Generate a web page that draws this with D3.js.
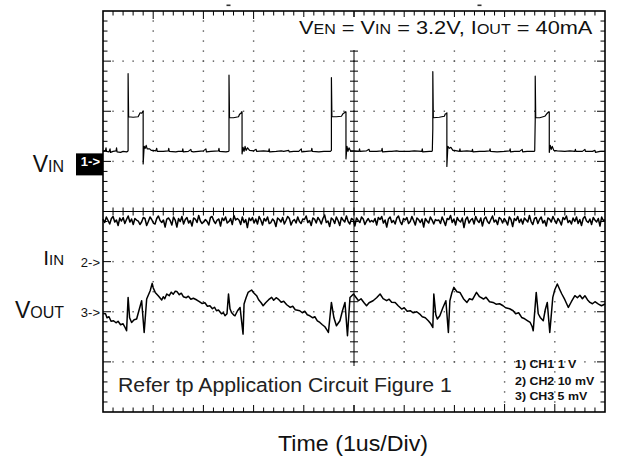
<!DOCTYPE html>
<html><head><meta charset="utf-8">
<script src="https://cdn.jsdelivr.net/npm/d3@7"></script>
<style>
body{margin:0;background:#fff}
svg{display:block}
text{font-family:"Liberation Sans",Arial,sans-serif}
</style>
</head><body>
<svg id="c" width="618" height="458"></svg>
<script>
// ---------------- DATA ----------------
const timeDomain = [0, 10];            // microseconds, 1 us / div
const divDomain = [-4, 4];             // vertical divisions
const channelIds = ["1", "2", "3"];
const channelMain = ["V", "I", "V"];
const channelSub = ["IN", "IN", "OUT"];
const channelOffsetDiv = [1, -1, -2];  // marker position (divisions)
const channelPerDiv = [1, 10, 5];      // V/div, mV/div, mV/div
const legendLines = ["1) CH1 1 V", "2) CH2 10 mV", "3) CH3 5 mV"];
const triggerTimes = [2.5, 7.5];
const titleParts = [["V",0],["EN",1],["  = V",0],["IN",1],[" = 3.2V, I",0],["OUT",1],[" = 40mA",0]];
const noteText = "Refer tp Application Circuit Figure 1";
const xTitle = "Time (1us/Div)";

// CH1: V_IN  [time us, volts]
const vinData = [
[0,0.2],[0.05,0.22],[0.06,0.27],[0.07,0.2],[0.12,0.19],[0.14,0.25],[0.15,0.18],[0.2,0.2],[0.26,0.21],[0.27,0.27],[0.28,0.19],[0.35,0.18],[0.4,0.2],[0.47,0.19],[0.49,0.2],
[0.5,0.21],[0.5,1.75],[0.51,0.89],[0.6,0.88],[0.7,0.89],[0.72,0.93],[0.74,0.97],[0.77,0.96],[0.79,0.99],[0.8,1.0],[0.8,-0.05],[0.82,0.3],[0.84,0.26],[0.86,0.32],[0.88,0.25],[0.93,0.25],[0.96,0.22],
[1.0,0.22],[1.05,0.21],[1.07,0.26],[1.08,0.2],[1.2,0.2],[1.3,0.21],[1.31,0.26],[1.32,0.2],[1.45,0.19],[1.5,0.2],[1.58,0.2],[1.59,0.25],[1.6,0.19],[1.7,0.2],[1.75,0.24],[1.76,0.2],[1.8,0.19],[1.9,0.2],[2.0,0.21],[2.05,0.25],[2.06,0.19],[2.15,0.2],[2.3,0.21],[2.31,0.26],[2.32,0.2],[2.45,0.19],[2.5,0.2],
[2.51,0.21],[2.51,1.72],[2.52,0.87],[2.6,0.87],[2.7,0.89],[2.72,0.94],[2.75,0.96],[2.76,0.99],[2.77,0.99],[2.77,0.15],[2.79,0.28],[2.81,0.2],[2.83,0.3],[2.85,0.22],[2.88,0.27],[2.92,0.22],
[3.0,0.21],[3.05,0.24],[3.06,0.2],[3.2,0.21],[3.3,0.2],[3.31,0.25],[3.32,0.19],[3.45,0.2],[3.55,0.21],[3.6,0.2],[3.7,0.22],[3.71,0.19],[3.8,0.2],[3.9,0.2],[3.95,0.25],[3.96,0.19],[4.05,0.2],[4.15,0.21],[4.16,0.26],[4.17,0.2],[4.3,0.19],[4.4,0.2],[4.5,0.2],[4.53,0.2],
[4.55,0.22],[4.55,1.67],[4.56,0.89],[4.65,0.89],[4.75,0.9],[4.78,0.95],[4.81,0.97],[4.83,0.99],[4.84,0.99],[4.84,0.05],[4.86,0.3],[4.88,0.2],[4.9,0.27],[4.93,0.21],
[5.0,0.21],[5.1,0.2],[5.11,0.25],[5.12,0.2],[5.25,0.21],[5.3,0.24],[5.31,0.2],[5.45,0.2],[5.55,0.21],[5.56,0.26],[5.57,0.19],[5.7,0.2],[5.75,0.2],[5.85,0.21],[5.9,0.2],[6.0,0.2],[6.1,0.2],[6.2,0.21],[6.35,0.2],[6.36,0.25],[6.37,0.19],[6.5,0.2],[6.55,0.2],
[6.56,0.21],[6.57,0.65],[6.57,1.79],[6.58,0.87],[6.7,0.88],[6.8,0.9],[6.82,0.95],[6.84,0.95],[6.85,0.97],[6.85,-0.1],[6.87,0.3],[6.9,0.26],[6.93,0.28],[6.97,0.22],
[7.0,0.22],[7.1,0.2],[7.11,0.25],[7.12,0.2],[7.25,0.21],[7.35,0.2],[7.36,0.24],[7.37,0.19],[7.5,0.2],[7.6,0.2],[7.7,0.21],[7.71,0.25],[7.72,0.2],[7.85,0.19],[8.0,0.2],[8.1,0.21],[8.11,0.25],[8.12,0.19],[8.2,0.2],[8.3,0.2],[8.35,0.24],[8.36,0.19],[8.45,0.2],[8.55,0.2],[8.59,0.2],
[8.6,0.21],[8.61,0.82],[8.61,1.7],[8.62,0.87],[8.7,0.87],[8.8,0.9],[8.84,0.95],[8.87,0.98],[8.88,0.99],[8.89,0.99],[8.89,0.18],[8.91,0.32],[8.93,0.24],[8.95,0.3],[8.98,0.22],
[9.05,0.21],[9.2,0.2],[9.3,0.21],[9.4,0.2],[9.41,0.24],[9.42,0.2],[9.55,0.2],[9.6,0.24],[9.61,0.2],[9.75,0.2],[9.8,0.22],[9.81,0.18],[9.9,0.2],[10,0.2]
];

// CH2: I_IN samples (mV), evenly sampled across the 10 us record
const iinSamples = [
8.5,7.8,8.9,8.2,7.5,8.6,9.0,7.9,8.3,7.2,8.7,8.1,8.8,7.6,8.4,9.1,7.9,8.5,7.4,8.6,
8.3,8.1,7.4,7.9,8.8,8.6,7.2,8.0,8.9,8.4,7.7,7.5,8.6,9.1,8.2,7.8,8.3,6.9,8.5,8.7,
8.2,7.3,8.9,8.3,6.9,8.6,8.0,9.0,7.5,8.4,8.8,7.7,8.2,7.1,8.7,8.5,7.8,9.2,8.1,7.6,
7.9,8.4,8.0,7.3,8.8,9.0,8.1,7.6,8.3,8.5,7.1,8.7,8.2,8.9,7.7,8.0,8.6,7.4,9.2,8.3,
8.6,8.3,7.4,8.9,7.8,8.4,6.8,8.7,8.2,8.8,7.7,8.5,7.5,9.0,8.3,7.3,8.6,8.1,8.9,7.6,
7.8,8.5,8.1,7.0,8.7,8.4,7.9,8.8,7.5,8.2,9.0,8.6,7.3,8.1,8.4,7.7,8.9,8.0,7.6,8.5,
8.4,9.1,7.8,8.2,7.2,8.7,8.5,7.7,8.8,8.3,7.5,8.6,9.3,7.8,8.1,7.0,8.7,8.4,7.6,8.9,
8.2,7.2,8.8,8.3,7.9,9.1,8.0,7.5,8.6,8.4,7.1,8.7,8.2,7.8,8.9,8.5,7.4,8.1,8.6,7.9,
8.2,7.9,8.6,7.3,8.8,8.4,9.0,7.7,8.3,6.9,8.5,8.9,7.8,8.2,7.5,8.7,9.1,8.0,7.4,8.6,
8.3,8.8,7.6,8.0,9.0,8.2,7.3,8.7,8.4,7.8,8.5,6.9,8.6,8.1,7.7,8.9,8.3,7.5,8.4,8.2,
8.3,7.6,8.9,8.1,7.2,8.6,8.4,9.2,7.8,8.5,7.3,8.8,8.2,7.9,8.7,6.8,8.4,8.9,7.7,8.3,
8.6,7.5,9.0,8.2,7.8,8.7,7.1,8.5,8.9,8.0,7.6,8.4,9.1,7.9,8.3,7.4,8.8,8.5,7.7,8.6,
8.1,7.3,8.9,8.4,7.0,8.6,8.2,9.0,7.8,8.5,7.5,8.7,8.3,7.9,9.2,8.0,7.4,8.6,8.8,7.6,
8.4,8.9,7.7,8.2,7.1,8.7,8.5,7.9,9.0,8.3,7.6,8.6,8.1,7.3,8.8,8.4,9.1,7.8,8.2,7.5,
8.7,8.0,8.9,7.6,8.4,7.2,8.6,9.0,8.1,7.8,8.5,7.4,8.8,8.3,7.9,8.6,7.1,8.9,8.2,8.4
];

// CH3: V_OUT [time us, mV]
const voutData = [
[0,-0.17],[0.05,-0.2],[0.08,-0.6],[0.12,-0.5],[0.16,-0.95],[0.21,-0.9],[0.26,-1.1],[0.3,-0.95],[0.35,-1.3],[0.4,-1.2],[0.44,-1.57],[0.47,-1.9],[0.5,1.43],[0.53,-0.6],[0.57,-1.07],[0.62,-0.8],[0.67,-0.73],[0.72,0.2],[0.77,1.1],[0.82,-2.07],[0.87,1.27],[0.94,2.1],[0.98,2.83],[1.0,2.4],[1.04,1.93],[1.1,1.6],[1.17,1.17],[1.2,1.5],[1.23,1.3],[1.27,1.77],[1.32,1.6],[1.36,1.95],[1.4,1.75],[1.44,2.05],[1.47,2.03],[1.52,1.7],[1.56,1.85],[1.6,1.5],[1.66,1.4],[1.7,1.55],[1.75,1.25],[1.8,1.35],[1.87,1.17],[1.92,1.0],[1.97,0.83],[2.03,0.9],[2.08,0.55],[2.13,0.6],[2.18,0.3],[2.22,0.45],[2.26,0.1],[2.3,0.17],[2.36,-0.2],[2.4,-0.1],[2.43,-0.4],[2.47,-0.2],[2.5,1.77],[2.53,0.3],[2.56,-0.07],[2.6,-0.3],[2.63,-0.4],[2.68,0.1],[2.73,0.43],[2.79,-2.23],[2.81,0.77],[2.85,1.4],[2.89,1.93],[2.96,2.17],[3.0,1.9],[3.06,1.6],[3.1,1.2],[3.15,0.9],[3.19,0.6],[3.24,0.9],[3.3,1.2],[3.36,1.43],[3.4,1.15],[3.45,1.4],[3.49,1.27],[3.55,0.95],[3.6,1.05],[3.66,0.7],[3.73,0.43],[3.78,0.55],[3.83,0.2],[3.92,0.1],[3.97,-0.1],[4.02,0.05],[4.07,-0.3],[4.12,-0.4],[4.18,-0.6],[4.22,-0.5],[4.27,-0.9],[4.32,-1.07],[4.37,-1.3],[4.42,-1.5],[4.46,-1.8],[4.49,-2.07],[4.55,0.93],[4.6,-0.6],[4.65,-1.4],[4.72,-0.9],[4.77,0.1],[4.82,0.93],[4.87,-2.4],[4.92,1.43],[4.99,1.77],[5.03,1.5],[5.09,1.1],[5.14,1.3],[5.2,0.9],[5.25,0.6],[5.3,0.9],[5.38,1.1],[5.45,1.4],[5.52,1.77],[5.58,1.3],[5.65,1.1],[5.7,1.25],[5.75,0.95],[5.82,0.93],[5.88,0.6],[5.95,0.27],[6.0,0.4],[6.06,0.05],[6.12,0.1],[6.18,-0.1],[6.25,0.0],[6.31,-0.23],[6.36,-0.5],[6.42,-0.6],[6.48,-0.9],[6.53,-1.2],[6.57,-1.57],[6.59,1.77],[6.63,-0.3],[6.66,-0.73],[6.71,-0.4],[6.77,0.4],[6.83,1.1],[6.88,-2.07],[6.91,1.1],[6.95,1.9],[6.99,2.43],[7.05,2.0],[7.11,1.93],[7.18,1.3],[7.25,0.93],[7.3,1.3],[7.36,1.2],[7.44,1.93],[7.5,1.5],[7.58,1.27],[7.63,1.45],[7.7,1.0],[7.77,0.93],[7.83,0.75],[7.9,0.8],[7.97,0.6],[8.02,0.4],[8.1,0.3],[8.17,0.1],[8.22,-0.2],[8.28,-0.1],[8.34,-0.57],[8.4,-0.7],[8.46,-0.9],[8.51,-1.07],[8.55,-1.5],[8.57,-1.9],[8.63,1.93],[8.67,-0.2],[8.71,-0.57],[8.77,-0.9],[8.81,0.2],[8.85,0.93],[8.9,-2.07],[8.96,1.43],[9.0,2.2],[9.05,2.77],[9.1,2.2],[9.14,1.77],[9.2,1.2],[9.27,0.43],[9.33,1.0],[9.4,1.6],[9.45,1.4],[9.5,1.65],[9.55,1.3],[9.6,1.6],[9.65,1.2],[9.7,0.93],[9.75,0.8],[9.8,1.0],[9.87,0.77],[9.93,0.6],[10,0.77]
];

// ---------------- LAYOUT ----------------
const X0 = 103, X1 = 605, Y0 = 11, Y1 = 412;
const svg = d3.select("#c");
const x = d3.scaleLinear().domain(timeDomain).range([X0, X1]);
const y = d3.scaleLinear().domain(divDomain).range([Y1, Y0]);

const minorT = d3.range(1, 50).map(i => i * 0.2);
const minorD = d3.range(1, 40).map(i => -4 + i * 0.2);
const isMajor = v => Math.abs(v - Math.round(v)) < 1e-6;

// grid dots
const gDots = svg.append("g").attr("fill", "#555");
[1,2,3,4,6,7,8,9].forEach(t => {
  minorD.forEach(d => gDots.append("rect").attr("x", x(t) - 0.7).attr("y", y(d) - 0.7).attr("width", 1.4).attr("height", 1.4));
});
[-3,-2,-1,1,2,3].forEach(d => {
  minorT.forEach(t => gDots.append("rect").attr("x", x(t) - 0.7).attr("y", y(d) - 0.7).attr("width", 1.4).attr("height", 1.4));
});

// center axes
const gAx = svg.append("g").attr("stroke", "#000").attr("stroke-width", 1);
gAx.append("line").attr("x1", X0).attr("x2", X1).attr("y1", y(0)).attr("y2", y(0));
gAx.append("line").attr("x1", x(5)).attr("x2", x(5)).attr("y1", Y0).attr("y2", Y1);
minorT.forEach(t => gAx.append("line").attr("x1", x(t)).attr("x2", x(t)).attr("y1", y(0) - 4).attr("y2", y(0) + 4));
minorD.forEach(d => gAx.append("line").attr("y1", y(d)).attr("y2", y(d)).attr("x1", x(5) - 4).attr("x2", x(5) + 4));

// border ticks
const gB = svg.append("g").attr("stroke", "#000").attr("stroke-width", 1);
minorT.forEach(t => {
  const L = isMajor(t) ? 8 : 4.5;
  gB.append("line").attr("x1", x(t)).attr("x2", x(t)).attr("y1", Y0).attr("y2", Y0 + L);
  gB.append("line").attr("x1", x(t)).attr("x2", x(t)).attr("y1", Y1).attr("y2", Y1 - L);
});
minorD.forEach(d => {
  const L = isMajor(d) ? 8 : 4.5;
  gB.append("line").attr("y1", y(d)).attr("y2", y(d)).attr("x1", X0).attr("x2", X0 + L);
  gB.append("line").attr("y1", y(d)).attr("y2", y(d)).attr("x1", X1).attr("x2", X1 - L);
});

// white label backgrounds
svg.append("rect").attr("x", 295).attr("y", 17).attr("width", 304).attr("height", 33).attr("fill", "#fff");
svg.append("rect").attr("x", 108).attr("y", 366).attr("width", 354).attr("height", 39).attr("fill", "#fff");

// border
svg.append("rect").attr("x", X0).attr("y", Y0).attr("width", X1 - X0).attr("height", Y1 - Y0)
  .attr("fill", "none").attr("stroke", "#000").attr("stroke-width", 1.6);

// trigger marks
svg.append("g").selectAll("rect").data(triggerTimes).join("rect")
  .attr("x", d => x(d) - 2).attr("y", 4.5).attr("width", 4).attr("height", 1.6).attr("fill", "#333");

// traces
const mk = (ci) => d3.line().x(d => x(d[0])).y(d => y(channelOffsetDiv[ci] + d[1] / channelPerDiv[ci]));
const iinData = iinSamples.map((v, i) => [timeDomain[1] * i / (iinSamples.length - 1), v]);
const gT = svg.append("g").attr("fill", "none").attr("stroke", "#000").attr("stroke-linejoin", "round");
gT.append("path").attr("d", mk(0)(vinData)).attr("stroke-width", 1.2);
gT.append("path").attr("d", mk(1)(iinData)).attr("stroke-width", 1.5);
gT.append("path").attr("d", mk(2)(voutData)).attr("stroke-width", 1.5);

// helper: horizontal fit
function fit(sel, target, ax) {
  const w = sel.node().getBBox().width;
  const s = target / w;
  sel.attr("transform", `translate(${ax},0) scale(${s},1) translate(${-ax},0)`);
}

// title
const tt = svg.append("text").attr("x", 299).attr("y", 34).attr("font-size", 19).attr("fill", "#111");
titleParts.forEach(p => tt.append("tspan").attr("font-size", p[1] ? 14 : 19).text(p[0]));
fit(tt, 294, 299);

// channel labels
const labelSize = [[23, 16], [21, 15], [23, 16]];
const labelDy = [11, 3, 6];
channelIds.forEach((id, i) => {
  const yy = y(channelOffsetDiv[i]);
  const t = svg.append("text").attr("x", 64).attr("y", yy + labelDy[i]).attr("text-anchor", "end").attr("fill", "#111");
  t.append("tspan").attr("font-size", labelSize[i][0]).text(channelMain[i]);
  t.append("tspan").attr("font-size", labelSize[i][1]).text(channelSub[i]);
  if (i === 0) {
    svg.append("rect").attr("x", 76).attr("y", yy - 8).attr("width", 27).attr("height", 22).attr("fill", "#000");
    svg.append("text").attr("x", 100).attr("y", yy + 5).attr("text-anchor", "end").attr("font-size", 13)
      .attr("font-weight", "bold").attr("fill", "#fff").text(id + "->");
  } else {
    svg.append("text").attr("x", 100).attr("y", yy + 5).attr("text-anchor", "end").attr("font-size", 13)
      .attr("fill", "#111").text(id + "->");
  }
});

// note
const nt = svg.append("text").attr("x", 118).attr("y", 392).attr("font-size", 21).attr("fill", "#222").text(noteText);
fit(nt, 334, 118);

// legend
const legW = [62, 80, 73];
const legY = [368, 385, 400.5];
legendLines.forEach((s, i) => {
  const t = svg.append("text").attr("x", 515).attr("y", legY[i]).attr("font-size", 11).attr("font-weight", "bold").attr("fill", "#111").text(s);
  fit(t, legW[i], 515);
});

// x title
const xt = svg.append("text").attr("x", 353).attr("y", 451).attr("text-anchor", "middle").attr("font-size", 22).attr("fill", "#111").text(xTitle);
fit(xt, 150, 353);
</script>
</body></html>
